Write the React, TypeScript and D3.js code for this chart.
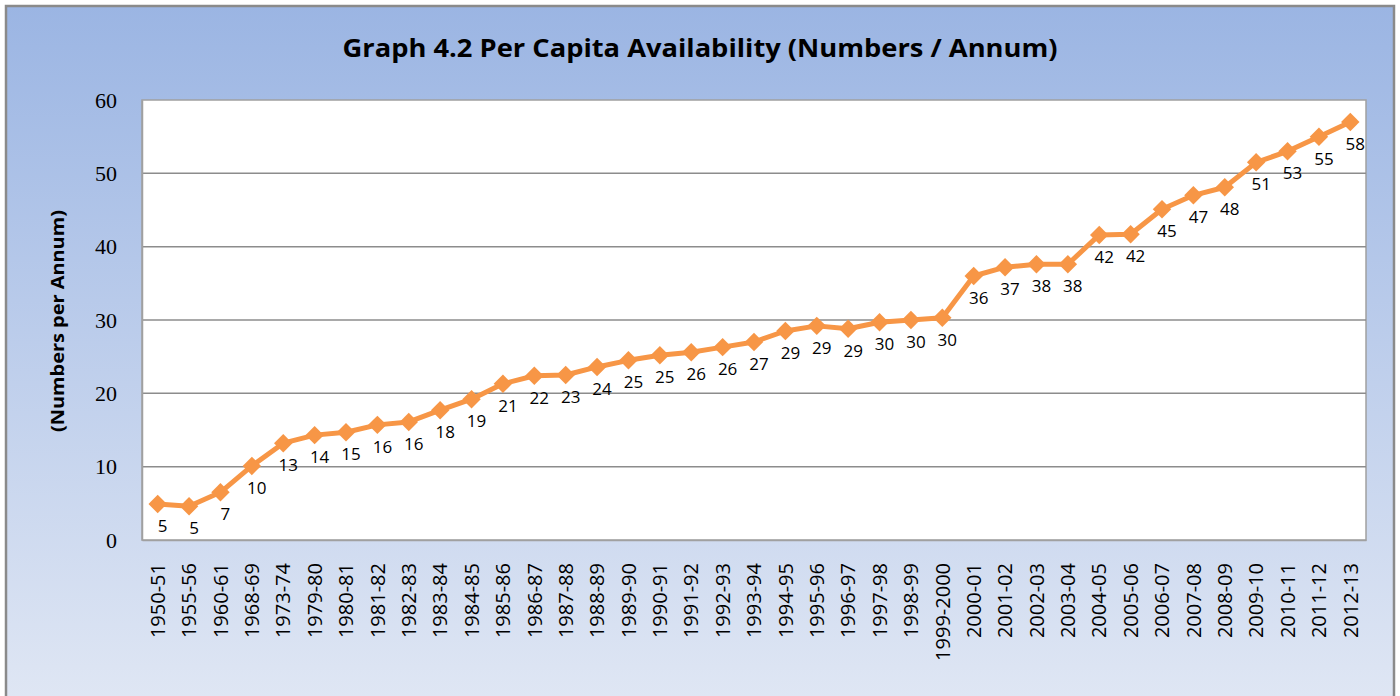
import { useEffect, useRef } from "react";
import * as d3 from "d3";

const periods = [
  "1950-51", "1955-56", "1960-61", "1968-69", "1973-74", "1979-80", "1980-81",
  "1981-82", "1982-83", "1983-84", "1984-85", "1985-86", "1986-87", "1987-88",
  "1988-89", "1989-90", "1990-91", "1991-92", "1992-93", "1993-94", "1994-95",
  "1995-96", "1996-97", "1997-98", "1998-99", "1999-2000", "2000-01", "2001-02",
  "2002-03", "2003-04", "2004-05", "2005-06", "2006-07", "2007-08", "2008-09",
  "2009-10", "2010-11", "2011-12", "2012-13",
];

// plotted values
const availability = [
  4.9, 4.6, 6.5, 10.1, 13.2, 14.3, 14.7, 15.7, 16.1, 17.7, 19.2, 21.3, 22.4,
  22.5, 23.6, 24.5, 25.2, 25.6, 26.3, 27.0, 28.5, 29.2, 28.8, 29.7, 30.0, 30.3,
  36.0, 37.2, 37.6, 37.6, 41.6, 41.7, 45.1, 47.0, 48.1, 51.5, 53.0, 55.0, 57.0,
];

// data labels as printed on the chart
const pointLabels = [
  "5", "5", "7", "10", "13", "14", "15", "16", "16", "18", "19", "21", "22",
  "23", "24", "25", "25", "26", "26", "27", "29", "29", "29", "30", "30", "30",
  "36", "37", "38", "38", "42", "42", "45", "47", "48", "51", "53", "55", "58",
];

const yTicks = [0, 10, 20, 30, 40, 50, 60];

const chartTitle = "Graph 4.2 Per Capita Availability (Numbers / Annum)";
const yTitle = "(Numbers per Annum)";

export default function App() {
  const svgRef = useRef<SVGSVGElement | null>(null);

  useEffect(() => {
    if (!svgRef.current) return;
    document.body.style.margin = "0";

    const width = 1400;
    const height = 696;
    const plot = { left: 142, right: 1366, top: 100, bottom: 540 };
    const orange = "#f79646";

    const svg = d3.select(svgRef.current);
    svg.selectAll("*").remove();
    svg.attr("width", width).attr("height", height);

    const defs = svg.append("defs");
    const grad = defs
      .append("linearGradient")
      .attr("id", "bg")
      .attr("x1", 0).attr("y1", 0).attr("x2", 0).attr("y2", 1);
    grad.append("stop").attr("offset", "0%").attr("stop-color", "#9bb5e3");
    grad.append("stop").attr("offset", "100%").attr("stop-color", "#e0e7f4");

    // chart frame
    svg
      .append("rect")
      .attr("x", 6)
      .attr("y", 6)
      .attr("width", 1388)
      .attr("height", 702)
      .attr("fill", "url(#bg)")
      .attr("stroke", "#8a8a8a")
      .attr("stroke-width", 2.5);

    svg
      .append("text")
      .attr("x", 700)
      .attr("y", 57)
      .attr("text-anchor", "middle")
      .attr("font-family", "'Open Sans', sans-serif")
      .attr("font-weight", "bold")
      .attr("font-size", "25px")
      .attr("textLength", 715)
      .attr("lengthAdjust", "spacingAndGlyphs")
      .attr("fill", "#000")
      .text(chartTitle);

    const x = d3.scaleBand<string>().domain(periods).range([plot.left, plot.right]);
    const y = d3.scaleLinear().domain([0, 60]).range([plot.bottom, plot.top]);

    svg
      .append("rect")
      .attr("x", plot.left)
      .attr("y", plot.top)
      .attr("width", plot.right - plot.left)
      .attr("height", plot.bottom - plot.top)
      .attr("fill", "#fff")
      .attr("stroke", "#a0a0a0")
      .attr("stroke-width", 1.5);

    // gridlines
    svg
      .append("g")
      .selectAll("line")
      .data(yTicks.slice(1, -1))
      .join("line")
      .attr("x1", plot.left)
      .attr("x2", plot.right)
      .attr("y1", (d) => y(d))
      .attr("y2", (d) => y(d))
      .attr("stroke", "#8c8c8c")
      .attr("stroke-width", 1.5);

    // y axis
    const yAxis = svg
      .append("g")
      .attr("transform", `translate(${plot.left},0)`)
      .call(d3.axisLeft(y).tickValues(yTicks).tickSize(0).tickPadding(25));
    yAxis.select(".domain").attr("stroke", "#a0a0a0").attr("stroke-width", 1.5);
    yAxis
      .selectAll("text")
      .attr("font-family", "'Liberation Serif', serif")
      .attr("font-size", "22px")
      .attr("fill", "#000");

    svg
      .append("text")
      .attr("transform", `translate(64,321) rotate(-90)`)
      .attr("text-anchor", "middle")
      .attr("font-family", "'Open Sans', sans-serif")
      .attr("font-weight", "bold")
      .attr("font-size", "18px")
      .attr("textLength", 222)
      .attr("lengthAdjust", "spacingAndGlyphs")
      .attr("fill", "#000")
      .text(yTitle);

    // x axis
    const xAxis = svg
      .append("g")
      .attr("transform", `translate(0,${plot.bottom})`)
      .call(d3.axisBottom(x).tickSize(0));
    xAxis.select(".domain").attr("stroke", "#a0a0a0").attr("stroke-width", 1.5);
    xAxis
      .selectAll("text")
      .attr("transform", "rotate(-90)")
      .attr("text-anchor", "end")
      .attr("x", -23)
      .attr("y", 0)
      .attr("dy", "0.36em")
      .attr("font-family", "'Liberation Sans Narrow', 'Open Sans', sans-serif")
      .attr("font-size", "20px")
      .attr("fill", "#000");

    const cx = (i: number) => (x(periods[i]) ?? 0) + x.bandwidth() / 2;

    const line = d3
      .line<number>()
      .x((_, i) => cx(i))
      .y((d) => y(d));

    svg
      .append("path")
      .datum(availability)
      .attr("d", line)
      .attr("fill", "none")
      .attr("stroke", orange)
      .attr("stroke-width", 5)
      .attr("stroke-linejoin", "round");

    const diamond = d3.symbol(d3.symbolSquare, 170);
    svg
      .append("g")
      .selectAll("path")
      .data(availability)
      .join("path")
      .attr("d", diamond as any)
      .attr("transform", (d, i) => `translate(${cx(i)},${y(d)}) rotate(45)`)
      .attr("fill", orange);

    svg
      .append("g")
      .selectAll("text")
      .data(availability)
      .join("text")
      .attr("x", (_, i) => cx(i) + 5)
      .attr("y", (d) => y(d) + 22)
      .attr("dy", "0.35em")
      .attr("text-anchor", "middle")
      .attr("font-family", "'Open Sans', sans-serif")
      .attr("font-size", "17px")
      .attr("fill", "#000")
      .text((_, i) => pointLabels[i]);
  }, []);

  return <svg ref={svgRef} style={{ display: "block" }} />;
}
